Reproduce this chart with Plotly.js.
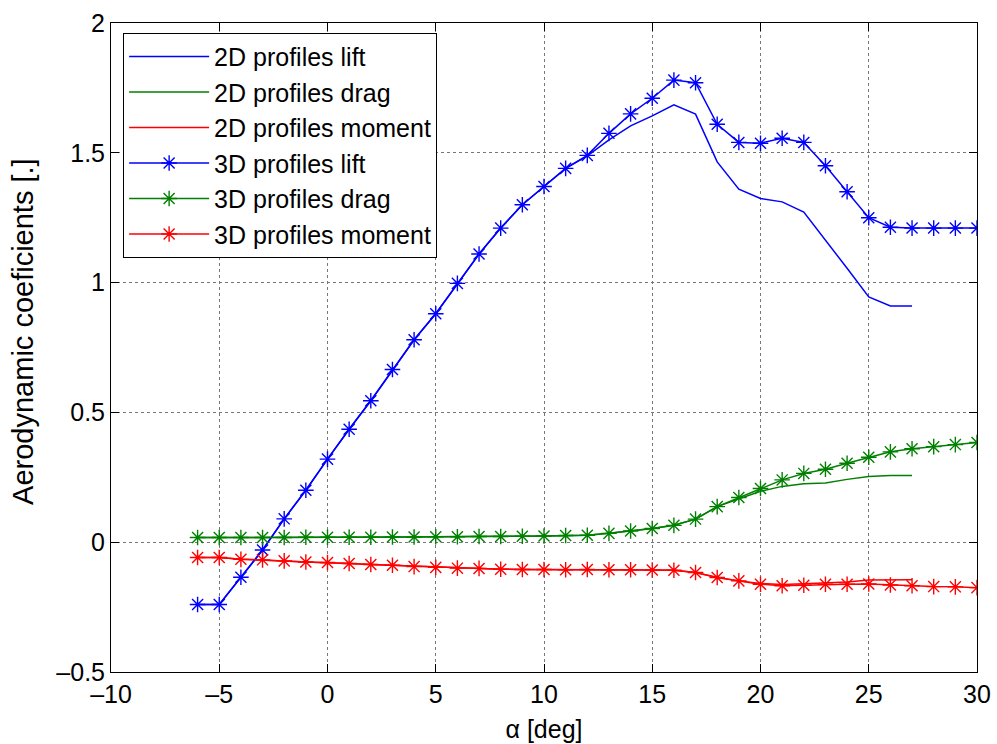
<!DOCTYPE html>
<html>
<head>
<meta charset="utf-8">
<script src="https://cdn.plot.ly/plotly-3.0.1.min.js"></script>
<style>html,body{margin:0;padding:0;background:#fff;}#chart{width:997px;height:744px;}</style>
</head>
<body>
<div id="chart"></div>
<script>
// angle of attack (deg)
const alpha3D = [-6,-5,-4,-3,-2,-1,0,1,2,3,4,5,6,7,8,9,10,11,12,13,14,15,16,17,18,19,20,21,22,23,24,25,26,27,28,29,30];
const alpha2D = [-6,-5,-4,-3,-2,-1,0,1,2,3,4,5,6,7,8,9,10,11,12,13,14,15,16,17,18,19,20,21,22,23,24,25,26,27];

const lift2D = [-0.24,-0.24,-0.135,-0.03,0.09,0.20,0.32,0.435,0.545,0.665,0.78,0.88,0.997,1.11,1.21,1.30,1.37,1.44,
  1.488,1.55,1.604,1.642,1.685,1.649,1.465,1.36,1.324,1.311,1.272,1.165,1.055,0.945,0.91,0.91];
const drag2D = [0.018,0.018,0.018,0.018,0.018,0.019,0.019,0.019,0.019,0.02,0.02,0.021,0.021,0.022,0.022,0.023,0.024,0.026,
  0.027,0.034,0.043,0.053,0.065,0.089,0.137,0.166,0.196,0.215,0.225,0.228,0.242,0.253,0.257,0.257];
const moment2D = [-0.059,-0.059,-0.066,-0.068,-0.072,-0.076,-0.078,-0.082,-0.086,-0.089,-0.094,-0.097,-0.100,-0.101,-0.104,-0.105,-0.105,-0.106,
  -0.105,-0.106,-0.106,-0.107,-0.108,-0.117,-0.136,-0.149,-0.159,-0.163,-0.160,-0.157,-0.153,-0.146,-0.145,-0.145];

const lift3D = [-0.24,-0.24,-0.135,-0.03,0.09,0.20,0.32,0.435,0.545,0.665,0.78,0.88,0.997,1.11,1.21,1.30,1.37,1.44,
  1.49,1.575,1.65,1.71,1.78,1.77,1.61,1.54,1.537,1.556,1.54,1.45,1.35,1.25,1.213,1.21,1.21,1.21,1.21];
const drag3D = [0.018,0.018,0.018,0.018,0.018,0.019,0.019,0.019,0.019,0.02,0.02,0.021,0.021,0.022,0.022,0.023,0.024,0.026,
  0.027,0.034,0.043,0.053,0.065,0.089,0.137,0.172,0.207,0.24,0.265,0.281,0.304,0.327,0.348,0.36,0.368,0.376,0.384];
const moment3D = [-0.059,-0.059,-0.066,-0.068,-0.072,-0.076,-0.078,-0.082,-0.086,-0.089,-0.094,-0.097,-0.100,-0.101,-0.104,-0.105,-0.105,-0.106,
  -0.105,-0.106,-0.106,-0.107,-0.108,-0.117,-0.136,-0.149,-0.162,-0.168,-0.166,-0.162,-0.162,-0.161,-0.165,-0.168,-0.171,-0.172,-0.175];

const xTicks = [-10,-5,0,5,10,15,20,25,30];
const yTicks = [-0.5,0,0.5,1,1.5,2];
const xTitle = '\u03b1 [deg]';
const yTitle = 'Aerodynamic coeficients [.]';

const BLUE = '#0000ff', GREEN = '#008000', RED = '#ff0000';
const FONT = 'Liberation Sans, Arial, sans-serif';

function lineTrace(x, y, name, color) {
  return {x, y, name, type: 'scatter', mode: 'lines', line: {color, width: 1.5}};
}
function starTrace(x, y, name, color) {
  return {x, y, name, type: 'scatter', mode: 'lines+markers', line: {color, width: 1.5},
    marker: {symbol: 'asterisk-open', size: 13, color, line: {color, width: 1.4}}};
}

const data = [
  lineTrace(alpha2D, lift2D, '2D profiles lift', BLUE),
  lineTrace(alpha2D, drag2D, '2D profiles drag', GREEN),
  lineTrace(alpha2D, moment2D, '2D profiles moment', RED),
  starTrace(alpha3D, lift3D, '3D profiles lift', BLUE),
  starTrace(alpha3D, drag3D, '3D profiles drag', GREEN),
  starTrace(alpha3D, moment3D, '3D profiles moment', RED)
];

const axisCommon = {
  showline: true, linecolor: '#000', linewidth: 1, mirror: 'allticks',
  ticks: 'inside', ticklen: 8, tickcolor: '#000', tickwidth: 1,
  showgrid: true, gridcolor: '#777', griddash: 'dot', gridwidth: 1,
  zeroline: false, tickfont: {family: FONT, size: 25, color: '#000'}
};

const layout = {
  width: 997, height: 744,
  margin: {l: 111, r: 20, t: 23, b: 72},
  paper_bgcolor: '#fff', plot_bgcolor: '#fff',
  showlegend: true,
  legend: {
    x: 0.014, y: 0.985, xanchor: 'left', yanchor: 'top',
    bgcolor: '#fff', bordercolor: '#000', borderwidth: 1,
    font: {family: FONT, size: 25, color: '#000'},
    itemwidth: 80, tracegroupgap: 0
  },
  xaxis: Object.assign({}, axisCommon, {
    range: [-10, 30], tickvals: xTicks, ticktext: xTicks.map(v => v < 0 ? '\u2013' + Math.abs(v) : String(v)),
    title: {text: xTitle, font: {family: FONT, size: 25, color: '#000'}, standoff: 13}
  }),
  yaxis: Object.assign({}, axisCommon, {
    range: [-0.5, 2], tickvals: yTicks, ticktext: yTicks.map(v => v < 0 ? '\u2013' + Math.abs(v) : String(v))
  }),
  annotations: [{
    text: yTitle, xref: 'paper', yref: 'paper', x: 0, y: 0.524,
    xanchor: 'center', yanchor: 'middle', xshift: -88, textangle: -90, showarrow: false,
    font: {family: FONT, size: 29, color: '#000'}
  }]
};

Plotly.newPlot('chart', data, layout, {displayModeBar: false, staticPlot: true});
</script>
</body>
</html>
